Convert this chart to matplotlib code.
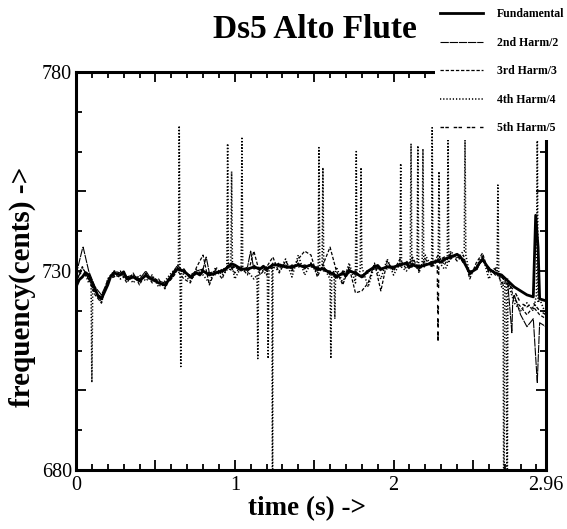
import matplotlib
matplotlib.use("Agg")
import matplotlib.pyplot as plt
from matplotlib.ticker import MultipleLocator, FixedLocator, NullFormatter

plt.rcParams['font.family'] = ['Liberation Serif', 'DejaVu Serif']
plt.rcParams['lines.scale_dashes'] = False

# sample times (s) of the pitch tracks
T_GRID = [0.00, 0.04, 0.08, 0.12, 0.16, 0.20, 0.24, 0.28, 0.32, 0.36,
          0.40, 0.44, 0.48, 0.52, 0.56, 0.60, 0.64, 0.68, 0.72, 0.76,
          0.80, 0.84, 0.88, 0.92, 0.96, 1.00, 1.04, 1.08, 1.12, 1.16,
          1.20, 1.24, 1.28, 1.32, 1.36, 1.40, 1.44, 1.48, 1.52, 1.56,
          1.60, 1.64, 1.68, 1.72, 1.76, 1.80, 1.84, 1.88, 1.92, 1.96,
          2.00, 2.04, 2.08, 2.12, 2.16, 2.20, 2.24, 2.28, 2.32, 2.36,
          2.40, 2.44, 2.48, 2.52, 2.56, 2.60, 2.64, 2.68, 2.72, 2.76,
          2.80, 2.84, 2.88, 2.92, 2.96]

# fundamental (cents)
F1 = [726, 728.5, 729, 725.5, 723, 726.5, 729.5, 729, 728, 728.5,
      727.5, 729, 728, 727, 726.5, 728.5, 730.5, 730, 728.5, 729.5,
      730, 729, 729.5, 730, 731, 731.5, 730.5, 730.5, 731, 730.5,
      730.5, 731.5, 731.5, 731, 731, 731.5, 731, 731.5, 730.5, 730.5,
      729.5, 728.5, 729.5, 730, 729.5, 728.5, 730, 731, 730.5, 731,
      731, 731.5, 732, 731.5, 731, 731.5, 732, 732.5, 733, 733.5,
      734.2, 732.5, 729.5, 730.5, 733, 730.5, 729.5, 729, 727.5, 726,
      725, 724, 723.5, 723, 722.5]
T1_EXTRA = [0.02, 0.06, 0.14, 0.22, 0.30, 0.46, 0.62, 0.78, 0.98, 1.18,
            1.50, 1.62, 1.70, 1.90, 2.10, 2.30, 2.42, 2.54, 2.895, 2.91]
F1_EXTRA = [727.8, 729.6, 723.6, 728.8, 729.8, 728.2, 729.8, 729.0, 731.8, 731.2,
            731.0, 729.4, 728.8, 731.4, 731.0, 732.2, 733.6, 732.0, 744, 736]

# 2nd harmonic / 2
F2 = [729, 735.5, 730, 726, 724, 727.5, 730, 729.5, 728.5, 729,
      728, 730, 727.5, 727.5, 727, 729, 731.5, 729.5, 729, 730,
      730.5, 729.5, 730, 729.5, 731.5, 731, 730, 731, 730.5, 731,
      730, 732, 731, 731.5, 730.5, 732, 730.5, 732, 730, 731,
      729, 729, 729, 730.5, 729, 729, 729.5, 731.5, 730, 731.5,
      730.5, 732, 731.5, 732, 730.5, 732, 731.5, 733, 732.5, 734,
      733.5, 733, 729, 731, 732.5, 731, 729, 728.5, 726.5, 724,
      719, 716, 718, 717, 716]
T2_EXTRA = [0.045, 0.82, 1.10, 2.745, 2.75, 2.905]
F2_EXTRA = [736, 733.5, 735, 714.5, 722, 702]

# 3rd harmonic / 3
F3 = [727, 731, 728, 724, 722, 728, 728.5, 730, 727, 729.5,
      726.5, 729.5, 727, 728, 725.5, 729, 730, 728, 727, 731,
      734, 726.5, 730.5, 728, 732, 729.5, 731, 729, 735, 729,
      731, 733.5, 729.5, 732.5, 730, 733, 735, 734, 728.5, 732,
      736, 730, 726.5, 731, 724.5, 725, 727, 732, 725, 732.5,
      730, 733, 730.5, 733.5, 730, 733, 731, 734, 731.5, 734.5,
      732.5, 734, 728, 732, 734.5, 729.5, 730.5, 727, 728, 723,
      721, 719, 721, 719, 718]

# 4th harmonic / 4 (many octave-error spikes)
F4 = [728, 731, 727, 725, 722, 728, 730, 728, 729, 727,
      729, 727.5, 729, 726, 727.5, 729.5, 731, 729, 727.5, 730.5,
      729, 727, 731, 729, 731, 728, 731, 730, 728, 731,
      729, 732, 730, 733, 728.5, 734, 729, 732, 729, 731,
      728, 731, 727, 732, 727, 731, 726, 731.5, 728, 733,
      729, 732, 730, 733, 729.5, 734, 731, 733, 730.5, 735,
      733, 735, 729, 731, 734, 728, 731, 726, 727, 722,
      720, 722, 720, 723, 719]
T4_EXTRA = [0.095, 0.10, 0.105,
            0.645, 0.65, 0.655, 0.66, 0.665,
            0.95, 0.955, 0.96, 0.975, 0.98, 0.985,
            1.045, 1.05,
            1.14, 1.145, 1.15,
            1.205, 1.21, 1.215,
            1.234, 1.238, 1.242,
            1.525, 1.53, 1.535, 1.55, 1.555,
            1.605, 1.61,
            1.625, 1.63, 1.635,
            1.765, 1.77, 1.79, 1.795,
            2.045, 2.05,
            2.105, 2.11, 2.115,
            2.148, 2.153, 2.158,
            2.18, 2.185, 2.19,
            2.243, 2.248,
            2.281, 2.286, 2.291,
            2.338, 2.343, 2.348,
            2.445, 2.45, 2.455,
            2.652, 2.657, 2.662,
            2.69, 2.695, 2.70, 2.71, 2.715,
            2.90, 2.905, 2.91]
F4_EXTRA = [727, 702, 726,
            730.5, 766.5, 731, 706, 730,
            730, 762, 731, 730, 755, 731,
            763.7, 730,
            729, 708, 730,
            730, 708, 730,
            731, 655, 731,
            730, 761, 730, 731, 756,
            708, 729,
            730, 718, 730,
            760, 729, 730, 756,
            757, 731,
            731, 762, 731,
            730.5, 761.5, 730,
            732, 760.7, 731,
            766, 731,
            732, 755, 732,
            731, 764, 732,
            735, 763, 734,
            730, 751.6, 730,
            727, 655, 727, 727, 655,
            724, 770, 722]

# 5th harmonic / 5
F5 = [728, 730, 728, 724.5, 723.5, 727, 729, 728.5, 728.5, 728,
      728, 728.5, 728.5, 727.5, 726, 728, 730, 730.5, 728, 729,
      730.5, 729.5, 729, 730.5, 730.5, 731, 731, 730, 731.5, 730,
      731, 731, 732, 730.5, 731.5, 731, 731.5, 731, 731, 730,
      730, 728, 730, 729.5, 730, 728, 730.5, 730.5, 731, 730.5,
      731.5, 731, 732.5, 731, 731.5, 731, 732.5, 712, 733.5, 733,
      734.5, 732, 730, 730, 733.5, 730, 730, 728.5, 727, 725,
      722, 721, 722, 720, 719]
T5_EXTRA = [2.275, 2.285]
F5_EXTRA = [732.3, 732.7]

LABELS = ["Fundamental", "2nd Harm/2", "3rd Harm/3", "4th Harm/4", "5th Harm/5"]


def merged(t_base, f_base, t_more=(), f_more=()):
    pts = sorted(zip(list(t_base) + list(t_more), list(f_base) + list(f_more)))
    return [p[0] for p in pts], [p[1] for p in pts]


fig = plt.figure(figsize=(5.67, 5.29), dpi=100)
ax = fig.add_axes([76 / 567, 1 - 470 / 529, 470 / 567, 398 / 529])

styles = [
    dict(color='black', lw=2.0, ls='-'),
    dict(color='black', lw=0.8, ls=(0, (6, 0.6))),
    dict(color='black', lw=0.9, ls=(0, (2.4, 1.3))),
    dict(color='black', lw=1.15, ls=(0, (0.9, 1.4))),
    dict(color='black', lw=1.0, ls=(0, (2.5, 1.0, 2.5, 3.5))),
]
series = [
    merged(T_GRID, F1, T1_EXTRA, F1_EXTRA),
    merged(T_GRID, F2, T2_EXTRA, F2_EXTRA),
    merged(T_GRID, F3),
    merged(T_GRID, F4, T4_EXTRA, F4_EXTRA),
    merged(T_GRID, F5, T5_EXTRA, F5_EXTRA),
]
# draw harmonics first so the fundamental sits on top
lines = {}
for i in [4, 3, 2, 1, 0]:
    t, f = series[i]
    (ln,) = ax.plot(t, f, label=LABELS[i], **styles[i])
    lines[i] = ln
handles = [lines[i] for i in range(5)]

ax.set_xlim(0, 2.96)
ax.set_ylim(680, 780)

for s in ax.spines.values():
    s.set_linewidth(2.2)

# ticks on every side, pointing inward
ax.xaxis.set_major_locator(MultipleLocator(0.5))
ax.xaxis.set_minor_locator(MultipleLocator(0.1))
ax.yaxis.set_major_locator(FixedLocator([700, 750]))
ax.yaxis.set_minor_locator(MultipleLocator(10))
ax.xaxis.set_major_formatter(NullFormatter())
ax.yaxis.set_major_formatter(NullFormatter())
ax.tick_params(which='both', direction='in', top=True, right=True,
               width=1.3, color='black')
ax.tick_params(which='major', length=7)
ax.tick_params(which='minor', length=4)

# numeric labels on their own axes so they carry no tick marks
sx = ax.secondary_xaxis('bottom')
sx.set_xticks([0, 1, 2, 2.96])
sx.set_xticklabels(['0', '1', '2', '2.96'])
sx.tick_params(length=0, pad=4, labelsize=14.5)
sx.spines['bottom'].set_visible(False)

sy = ax.secondary_yaxis('left')
sy.set_yticks([680, 730, 780])
sy.set_yticklabels(['680', '730', '780'])
sy.tick_params(length=0, pad=3, labelsize=14.5)
sy.spines['left'].set_visible(False)

fig.text(0.556, 1 - 38 / 529, "Ds5 Alto Flute", ha='center', va='baseline',
         fontsize=24, fontweight='bold')
fig.text(307 / 567, 1 - 515 / 529, "time (s) ->", ha='center', va='baseline',
         fontsize=19.5, fontweight='bold')
fig.text(22 / 567, 1 - 287 / 529, "frequency(cents) ->", ha='center',
         va='center', rotation=90, fontsize=21, fontweight='bold')

# opaque key box in the top-right corner, over the frame
leg = ax.legend(handles=handles, labels=LABELS, loc='upper left',
                bbox_to_anchor=(435 / 567, 1 - 3 / 529),
                bbox_transform=fig.transFigure, frameon=True,
                fancybox=False, facecolor='white', edgecolor='none',
                framealpha=1.0, borderpad=0.45, borderaxespad=0,
                handlelength=3.6, handletextpad=1.2, labelspacing=1.4,
                prop=dict(family='Liberation Serif', weight='bold', size=8.5))
leg.set_zorder(10)

fig.savefig("out.png", dpi=100)
